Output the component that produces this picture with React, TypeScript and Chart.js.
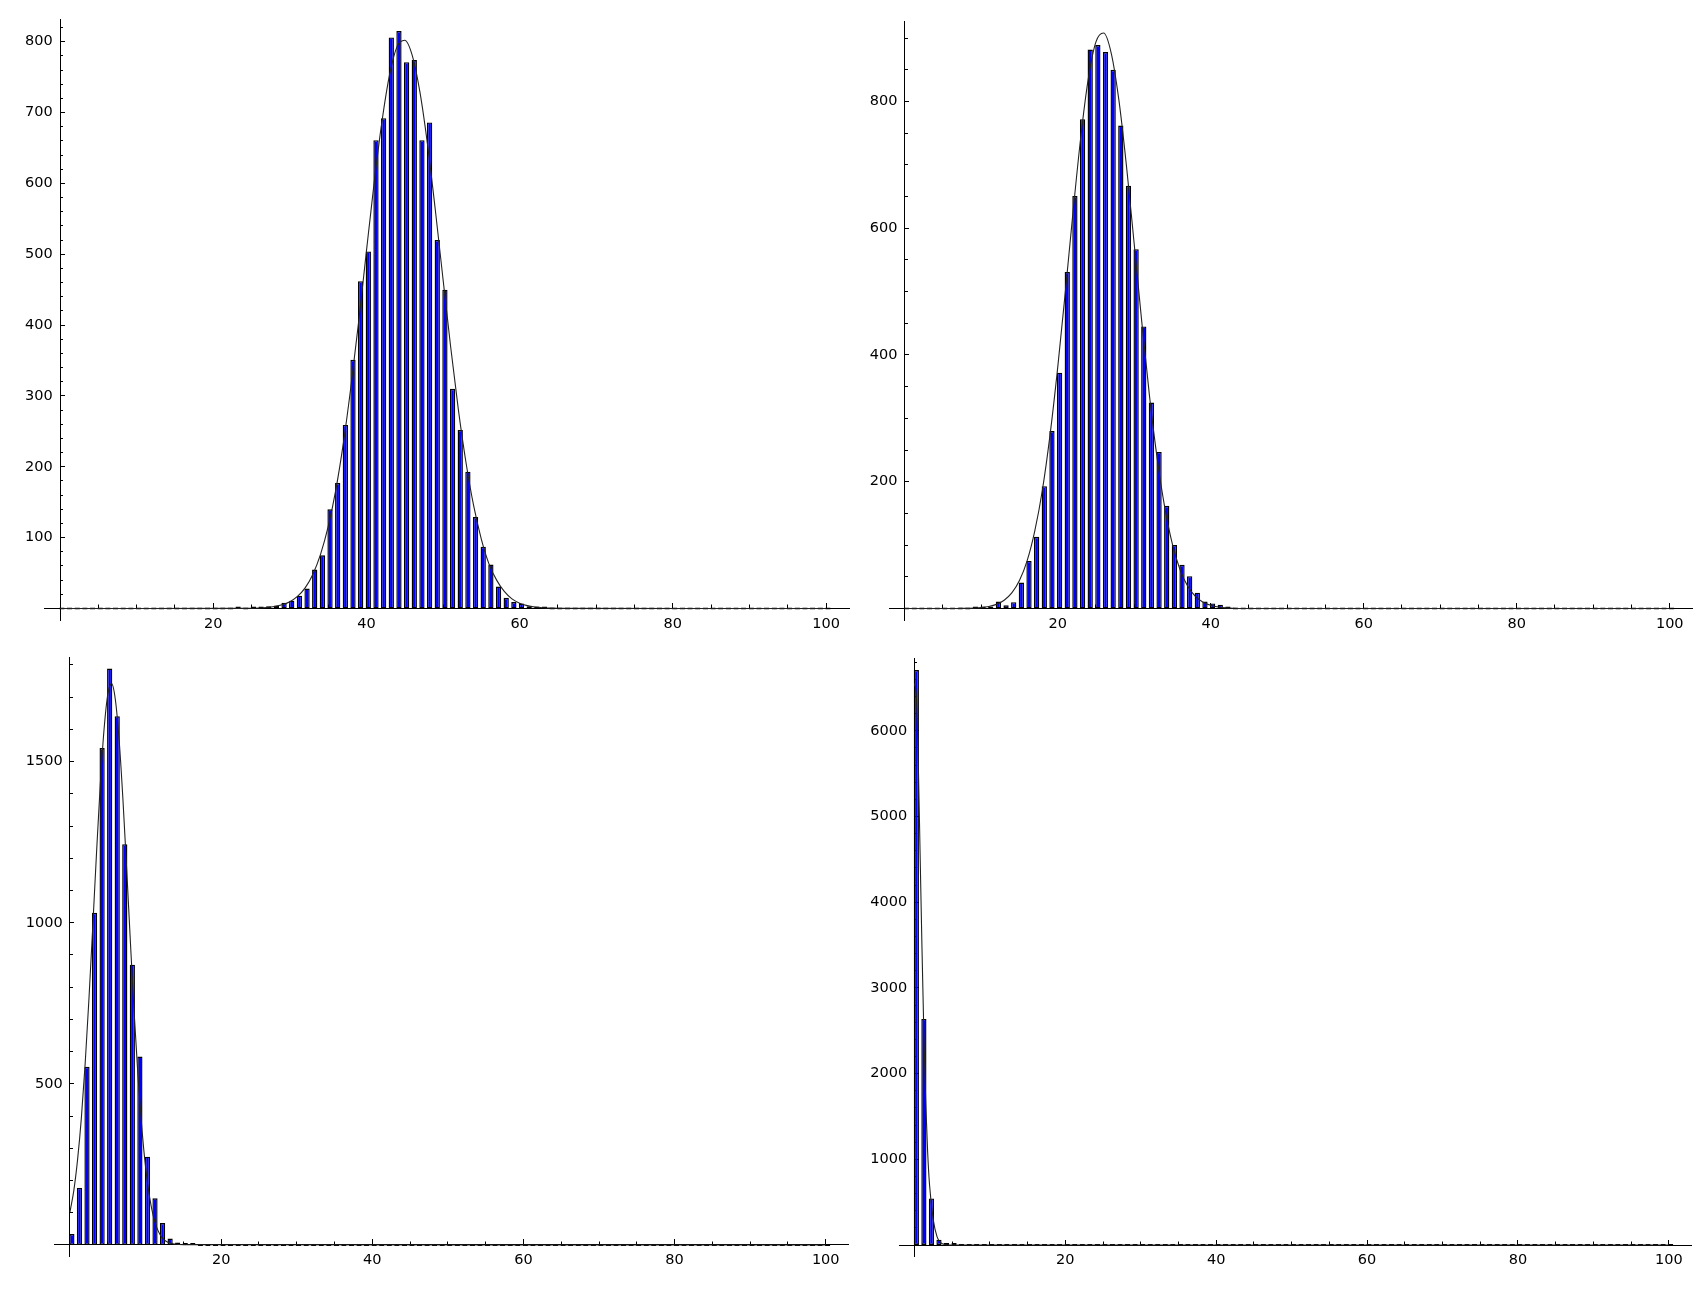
import React, { useEffect, useRef } from 'react';
import { Chart, registerables } from 'chart.js';

Chart.register(...registerables);

// ---------------- data ----------------
// histogram bins are the integers 0..100; bins outside a listed run hold 0
const BIN_FIRST = 0;
const BIN_LAST = 100;

// top-left
const HIST_A_START = 23;
const HIST_A = [2, 0, 1, 2, 3, 4, 8, 11, 18, 28, 55, 75, 140, 177, 259, 351, 462, 504, 661, 692, 806, 815,
  771, 774, 661, 686, 520, 450, 310, 252, 193, 129, 87, 62, 31, 15, 9, 7, 3, 2, 1];
const CURVE_A_X = [0, 24, 25, 26, 27, 28, 29, 30, 31, 32, 33, 34, 35, 36, 37, 38, 39, 40, 41, 42, 43, 44, 45,
  46, 47, 48, 49, 50, 51, 52, 53, 54, 55, 56, 57, 58, 59, 60, 61, 62, 63, 64, 65, 100];
const CURVE_A_Y = [0, 0.1, 0.3, 0.6, 1.3, 2.7, 5.1, 9.5, 17, 29, 48, 76, 115, 167, 234, 315, 406, 504, 600, 685,
  752, 793, 802, 780, 728, 653, 562, 465, 369, 281, 206, 145, 98, 63, 40, 24, 13.5, 7.5, 4, 2, 1, 0.5, 0.2, 0];
const Y_MAJOR_A = [100, 200, 300, 400, 500, 600, 700, 800];
const Y_MINOR_STEP_A = 20;

// top-right
const HIST_B_START = 9;
const HIST_B = [1, 2, 3, 11, 5, 10, 41, 75, 113, 193, 280, 372, 531, 651, 772, 882, 889, 878, 850, 762, 667,
  567, 445, 325, 247, 162, 100, 69, 51, 25, 11, 8, 6, 1];
const CURVE_B_X = [0, 7, 8, 9, 10, 11, 12, 13, 14, 15, 16, 17, 18, 19, 20, 21, 22, 23, 24, 25, 26, 27, 28, 29,
  30, 31, 32, 33, 34, 35, 36, 37, 38, 39, 40, 41, 42, 43, 44, 100];
const CURVE_B_Y = [0, 0.1, 0.2, 0.6, 1.4, 3.1, 6.5, 13, 24.5, 44, 75, 122, 187, 274, 380, 500, 625, 742, 836,
  894, 908, 876, 802, 697, 575, 451, 335, 237, 159, 101, 61, 35, 19, 10, 5, 2.3, 1, 0.4, 0.1, 0];
const Y_MAJOR_B = [200, 400, 600, 800];
const Y_MINOR_STEP_B = 50;

// bottom-left
const HIST_C_START = 0;
const HIST_C = [34, 177, 553, 1031, 1542, 1789, 1641, 1244, 870, 585, 274, 145, 68, 20, 8, 3, 1];
const CURVE_C_X = [0, 0.5, 1, 1.5, 2, 2.5, 3, 3.5, 4, 4.5, 5, 5.5, 6, 6.5, 7, 7.5, 8, 8.5, 9, 9.5, 10, 10.5,
  11, 11.5, 12, 12.5, 13, 14, 15, 100];
const CURVE_C_Y = [103, 168, 264, 393, 560, 760, 983, 1212, 1426, 1598, 1709, 1742, 1693, 1568, 1385, 1167,
  937, 717, 524, 365, 242, 153, 92, 53, 29, 15, 8, 2, 0.5, 0];
const Y_MAJOR_C = [500, 1000, 1500];
const Y_MINOR_STEP_C = 100;

// bottom-right
const HIST_D_START = 0;
const HIST_D = [6709, 2638, 543, 62, 14, 2];
const CURVE_D_X = [0, 0.25, 0.5, 0.75, 1, 1.25, 1.5, 1.75, 2, 2.5, 3, 3.5, 4, 5, 100];
const CURVE_D_Y = [6550, 6400, 5650, 4550, 3450, 2450, 1650, 1080, 700, 290, 95, 25, 6, 0, 0];
const Y_MAJOR_D = [1000, 2000, 3000, 4000, 5000, 6000];
const Y_MINOR_STEP_D = 200;

// shared x axis ticks
const X_MAJOR = [20, 40, 60, 80, 100];
const X_MINOR_STEP = 5;

// ---------------- styling / layout ----------------
const X_MIN = -2.05;
const X_MAX = 103;
const BAR_SHIFT = 0.25; // bars span [bin, bin + 0.5]
const FONT = { family: "'DejaVu Sans', sans-serif", size: 14.5 };

type Panel = {
  histStart: number;
  hist: number[];
  curveX: number[];
  curveY: number[];
  yMajor: number[];
  yMinorStep: number;
  box: { left: number; top: number; width: number; height: number };
  pad: { left: number; top: number; right: number; bottom: number };
};

const PANELS: Panel[] = [
  {
    histStart: HIST_A_START, hist: HIST_A, curveX: CURVE_A_X, curveY: CURVE_A_Y,
    yMajor: Y_MAJOR_A, yMinorStep: Y_MINOR_STEP_A,
    box: { left: 0, top: 0, width: 868, height: 640 },
    pad: { left: 44.3, top: 19.5, right: 19.0, bottom: 20 },
  },
  {
    histStart: HIST_B_START, hist: HIST_B, curveX: CURVE_B_X, curveY: CURVE_B_Y,
    yMajor: Y_MAJOR_B, yMinorStep: Y_MINOR_STEP_B,
    box: { left: 850, top: 0, width: 858, height: 640 },
    pad: { left: 39.0, top: 21.5, right: 15.3, bottom: 20 },
  },
  {
    histStart: HIST_C_START, hist: HIST_C, curveX: CURVE_C_X, curveY: CURVE_C_Y,
    yMajor: Y_MAJOR_C, yMinorStep: Y_MINOR_STEP_C,
    box: { left: 0, top: 640, width: 868, height: 652 },
    pad: { left: 54.5, top: 17, right: 19.6, bottom: 35.5 },
  },
  {
    histStart: HIST_D_START, hist: HIST_D, curveX: CURVE_D_X, curveY: CURVE_D_Y,
    yMajor: Y_MAJOR_D, yMinorStep: Y_MINOR_STEP_D,
    box: { left: 850, top: 640, width: 858, height: 652 },
    pad: { left: 49.0, top: 18.5, right: 16.6, bottom: 35.5 },
  },
];

function stepsUpTo(step: number, max: number): number[] {
  const out: number[] = [];
  for (let v = step; v <= max + 1e-9; v += step) out.push(v);
  return out;
}

function buildConfig(p: Panel): any {
  const bars: { x: number; y: number }[] = [];
  for (let b = BIN_FIRST; b <= BIN_LAST; b++) {
    const k = b - p.histStart;
    const count = k >= 0 && k < p.hist.length ? p.hist[k] : 0;
    bars.push({ x: b + BAR_SHIFT, y: count });
  }
  const curve = p.curveX.map((x, i) => ({ x, y: p.curveY[i] }));
  const peak = Math.max(...p.hist, ...p.curveY);
  const yMin = -0.02 * peak;
  const yMax = 1.02 * peak;
  const yMinor = stepsUpTo(p.yMinorStep, yMax);
  const xMinor = stepsUpTo(X_MINOR_STEP, BIN_LAST);

  const zeroH = (s: any) => { s.height = 0; };
  const zeroW = (s: any) => { s.width = 0; };

  return {
    type: 'bar',
    data: {
      datasets: [
        {
          type: 'line',
          data: curve,
          xAxisID: 'x',
          yAxisID: 'y',
          borderColor: '#222222',
          borderWidth: 1.1,
          pointRadius: 0,
          fill: false,
          cubicInterpolationMode: 'monotone',
          order: 0,
        },
        {
          type: 'bar',
          data: bars,
          xAxisID: 'x',
          yAxisID: 'y',
          backgroundColor: '#0000ff',
          borderColor: '#000000',
          borderWidth: 1.4,
          borderSkipped: false,
          barPercentage: 0.69,
          categoryPercentage: 1,
          minBarLength: 2,
          order: 1,
        },
      ],
    },
    options: {
      responsive: false,
      maintainAspectRatio: false,
      animation: false,
      devicePixelRatio: 1,
      events: [],
      layout: { padding: p.pad },
      plugins: { legend: { display: false }, tooltip: { enabled: false }, title: { display: false } },
      scales: {
        x: {
          type: 'linear',
          min: X_MIN,
          max: X_MAX,
          offset: false,
          position: { y: 0 },
          afterBuildTicks: (s: any) => { s.ticks = X_MAJOR.map((v) => ({ value: v })); },
          afterFit: zeroH,
          grid: { display: true, offset: false, drawOnChartArea: false, drawTicks: true, tickLength: -6, tickColor: '#000', tickWidth: 1 },
          border: { display: true, color: '#000', width: 1 },
          ticks: { padding: 13, color: '#000', font: FONT, autoSkip: false, maxRotation: 0, callback: (v: any) => String(v) },
        },
        x2: {
          type: 'linear',
          axis: 'x',
          min: X_MIN,
          max: X_MAX,
          offset: false,
          position: { y: 0 },
          afterBuildTicks: (s: any) => { s.ticks = xMinor.map((v) => ({ value: v })); },
          afterFit: zeroH,
          grid: { display: true, offset: false, drawOnChartArea: false, drawTicks: true, tickLength: -3.5, tickColor: '#000', tickWidth: 1 },
          border: { display: false },
          ticks: { display: false, autoSkip: false },
        },
        y: {
          type: 'linear',
          min: yMin,
          max: yMax,
          position: { x: 0 },
          afterBuildTicks: (s: any) => { s.ticks = p.yMajor.map((v) => ({ value: v })); },
          afterFit: zeroW,
          grid: { display: true, drawOnChartArea: false, drawTicks: true, tickLength: -5, tickColor: '#000', tickWidth: 1 },
          border: { display: true, color: '#000', width: 1 },
          ticks: { padding: 0, color: '#000', font: FONT, autoSkip: false, callback: (v: any) => `${v}\u2002` },
        },
        y2: {
          type: 'linear',
          axis: 'y',
          min: yMin,
          max: yMax,
          position: { x: 0 },
          afterBuildTicks: (s: any) => { s.ticks = yMinor.map((v) => ({ value: v })); },
          afterFit: zeroW,
          grid: { display: true, drawOnChartArea: false, drawTicks: true, tickLength: -3, tickColor: '#000', tickWidth: 1 },
          border: { display: false },
          ticks: { display: false, autoSkip: false },
        },
      },
    },
  };
}

export default function App() {
  const refs = [useRef<HTMLCanvasElement>(null), useRef<HTMLCanvasElement>(null), useRef<HTMLCanvasElement>(null), useRef<HTMLCanvasElement>(null)];

  useEffect(() => {
    const charts: Chart[] = [];
    PANELS.forEach((p, i) => {
      const c = refs[i].current;
      if (c) charts.push(new Chart(c, buildConfig(p)));
    });
    return () => { charts.forEach((ch) => ch.destroy()); };
  }, []);

  return (
    <div style={{ position: 'absolute', left: 0, top: 0, width: 1708, height: 1292, background: '#fff', overflow: 'hidden' }}>
      {PANELS.map((p, i) => (
        <canvas
          key={i}
          ref={refs[i]}
          width={p.box.width}
          height={p.box.height}
          style={{ position: 'absolute', left: p.box.left, top: p.box.top, width: p.box.width, height: p.box.height }}
        />
      ))}
    </div>
  );
}
